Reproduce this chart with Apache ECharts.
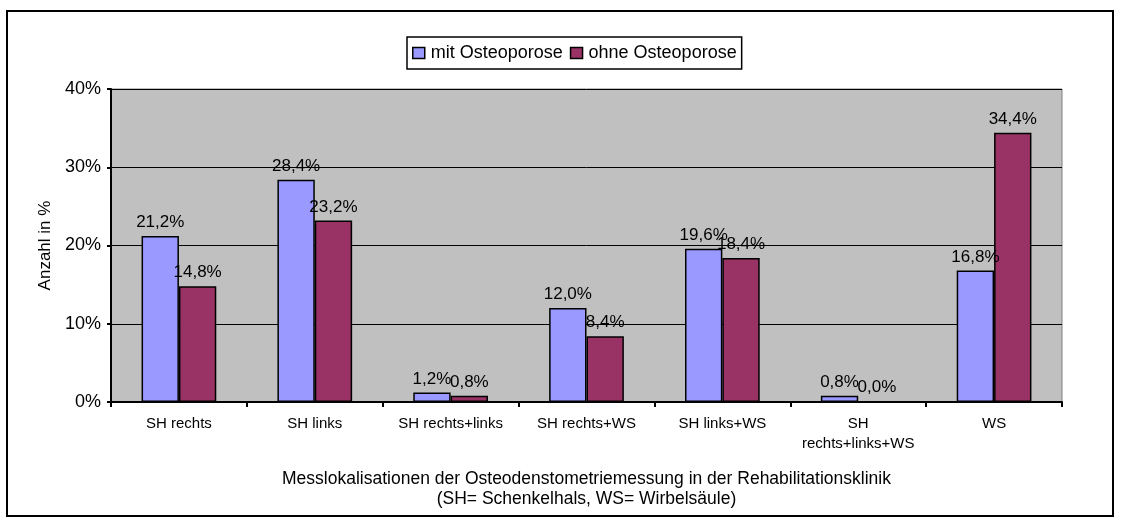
<!DOCTYPE html>
<html>
<head>
<meta charset="utf-8">
<script src="https://cdn.jsdelivr.net/npm/echarts@6/dist/echarts.min.js"></script>
<style>
  html, body { margin: 0; padding: 0; background: #fff; }
  #chart { width: 1121px; height: 523px; }
</style>
</head>
<body>
<div id="chart"></div>
<script>
// Messlokalisationen (x-Achse)
const categories = ['SH rechts', 'SH links', 'SH rechts+links', 'SH rechts+WS', 'SH links+WS', 'SH\nrechts+links+WS', 'WS']
// Anteile in %
const mitOsteoporose = [21.2, 28.4, 1.2, 12.0, 19.6, 0.8, 16.8]
const ohneOsteoporose = [14.8, 23.2, 0.8, 8.4, 18.4, 0.0, 34.4]
const seriesNames = ['mit Osteoporose', 'ohne Osteoporose']
const yTicks = [0, 10, 20, 30, 40]

const font = 'Liberation Sans, Arial, sans-serif'
const pct = v => v.toFixed(1).replace('.', ',') + '%'

const myChart = echarts.init(document.getElementById('chart'), null, { renderer: 'canvas' })

const barLabel = {
  show: true,
  position: 'top',
  distance: 5,
  color: '#000',
  fontFamily: font,
  fontSize: 17,
  formatter: p => pct(p.value)
}

const option = {
  animation: false,
  backgroundColor: '#fff',
  textStyle: { fontFamily: font },
  graphic: [{
    type: 'rect',
    shape: { x: 7, y: 11, width: 1106, height: 505 },
    style: { fill: 'none', stroke: '#000', lineWidth: 2 },
    silent: true
  }],
  legend: {
    data: seriesNames,
    left: 407,
    top: 37,
    padding: [7, 5, 7, 5],
    itemGap: 7,
    itemWidth: 12,
    itemHeight: 11,
    icon: 'rect',
    borderColor: '#000',
    borderWidth: 1.5,
    itemStyle: { borderColor: '#000', borderWidth: 1.5 },
    textStyle: { fontFamily: font, fontSize: 18, color: '#000', padding: [0, 0, 0, 1] }
  },
  grid: {
    left: 111,
    top: 89,
    right: 59,
    bottom: 121,
    show: true,
    backgroundColor: '#c0c0c0',
    borderColor: '#808080',
    borderWidth: 1,
    containLabel: false
  },
  xAxis: {
    type: 'category',
    data: categories,
    axisLine: { lineStyle: { color: '#000', width: 2 } },
    axisTick: { show: true, alignWithLabel: false, length: 5, lineStyle: { color: '#000', width: 2 } },
    axisLabel: { color: '#000', fontFamily: font, fontSize: 15, margin: 12, lineHeight: 20, interval: 0 },
    name: 'Messlokalisationen der Osteodenstometriemessung in der Rehabilitationsklinik\n(SH= Schenkelhals, WS= Wirbelsäule)',
    nameLocation: 'middle',
    nameGap: 67,
    nameTextStyle: { color: '#000', fontFamily: font, fontSize: 17.5, lineHeight: 20 }
  },
  yAxis: {
    type: 'value',
    min: yTicks[0],
    max: yTicks[yTicks.length - 1],
    interval: 10,
    axisLine: { show: true, lineStyle: { color: '#000', width: 2 } },
    axisTick: { show: true, length: 4, lineStyle: { color: '#000', width: 2 } },
    axisLabel: { color: '#000', fontFamily: font, fontSize: 18, margin: 10, formatter: v => v + '%' },
    splitLine: { show: true, lineStyle: { color: '#000', width: 1 } },
    name: 'Anzahl in %',
    nameLocation: 'middle',
    nameGap: 51,
    nameRotate: 90,
    nameTextStyle: { color: '#000', fontFamily: font, fontSize: 17 }
  },
  series: [{
    name: seriesNames[0],
    type: 'bar',
    data: mitOsteoporose,
    barGap: '0%',
    barCategoryGap: '45%',
    itemStyle: { color: '#9999ff', borderColor: '#000', borderWidth: 1.5 },
    label: barLabel
  }, {
    name: seriesNames[1],
    type: 'bar',
    data: ohneOsteoporose,
    itemStyle: { color: '#993366', borderColor: '#000', borderWidth: 1.5 },
    label: barLabel
  }]
}

myChart.setOption(option)
</script>
</body>
</html>
